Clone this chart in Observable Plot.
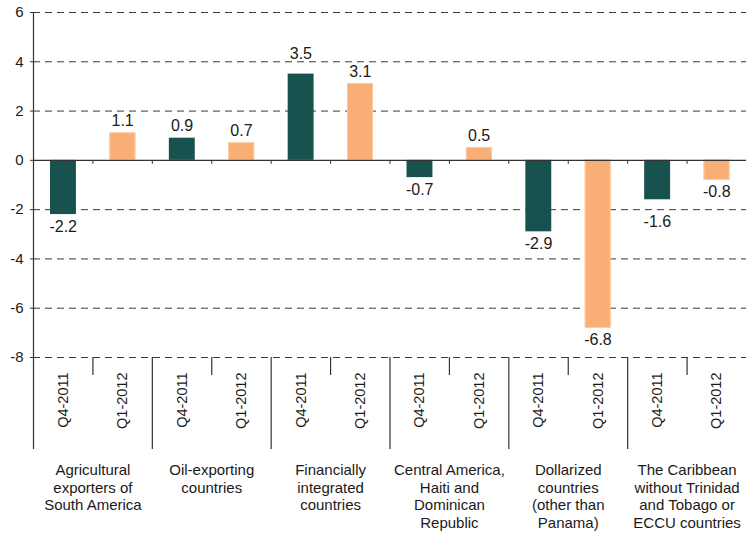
<!DOCTYPE html>
<html>
<head>
<meta charset="utf-8">
<script src="https://cdn.jsdelivr.net/npm/d3@7"></script>
<script src="https://cdn.jsdelivr.net/npm/@observablehq/plot@0.6"></script>
<style>
  html, body { margin: 0; padding: 0; background: #ffffff; }
  #chart svg { display: block; }
</style>
</head>
<body>
<div id="chart"></div>
<script>
const groups = [
  "Agricultural\nexporters of\nSouth America",
  "Oil-exporting\ncountries",
  "Financially\nintegrated\ncountries",
  "Central America,\nHaiti and\nDominican\nRepublic",
  "Dollarized\ncountries\n(other than\nPanama)",
  "The Caribbean\nwithout Trinidad\nand Tobago or\nECCU countries"
];
const quarters = ["Q4-2011", "Q1-2012"];
const valuesQ4_2011 = [-2.2, 0.9, 3.5, -0.7, -2.9, -1.6];
const valuesQ1_2012 = [1.1, 0.7, 3.1, 0.5, -6.8, -0.8];
const yTicks = [-8, -6, -4, -2, 0, 2, 4, 6];
const colors = ["#17524f", "#f9ae76"];

const W = 746, H = 533, mL = 33, mR = 0, mT = 12, mB = 176;

const rows = [];
groups.forEach((g, gi) => {
  [valuesQ4_2011[gi], valuesQ1_2012[gi]].forEach((v, qi) => {
    rows.push({slot: gi * 2 + qi, group: g, quarter: quarters[qi], value: v});
  });
});
const nSlots = rows.length;
const slotEdges = d3.range(0, nSlots);
const minorEdges = slotEdges.filter(s => s % 2 === 1);
const majorEdges = slotEdges.filter(s => s % 2 === 0);
const yMin = d3.min(yTicks), yMax = d3.max(yTicks);

// Label placement: if a value label would cross a gridline, place it beyond that gridline
const pxPerUnit = (H - mT - mB) / (yMax - yMin);
const labelSpan = 20 / pxPerUnit;
rows.forEach(d => {
  const v = d.value;
  let hit;
  if (v >= 0) hit = yTicks.find(t => t !== 0 && t > v && t < v + labelSpan);
  else hit = yTicks.find(t => t !== 0 && t < v && t > v - labelSpan);
  d.labelY = hit ?? v;
  d.moved = hit !== undefined;
});
const fmt = d => d.value.toFixed(1);

const chart = Plot.plot({
  width: W,
  height: H,
  marginLeft: mL,
  marginRight: mR,
  marginTop: mT,
  marginBottom: mB,
  style: {fontFamily: "'Liberation Sans', Arial, sans-serif", color: "#1a1a1a", background: "#ffffff"},
  x: {domain: [0, nSlots], axis: null},
  y: {domain: [yMin, yMax], axis: null},
  color: {domain: quarters, range: colors},
  marks: [
    Plot.ruleY(yTicks.filter(t => t !== 0), {stroke: "#3a3a3a", strokeDasharray: "7,5", strokeWidth: 1}),
    Plot.rect(rows, {
      x1: d => d.slot, x2: d => d.slot + 1, y1: 0, y2: "value",
      fill: "quarter", insetLeft: 17, insetRight: 16.5
    }),
    Plot.rect(rows.filter(d => d.quarter === quarters[1]), {
      x1: d => d.slot, x2: d => d.slot + 1, y1: 0, y2: "value",
      fill: "none", stroke: "#fcc9a0", strokeWidth: 1, insetLeft: 17.5, insetRight: 17
    }),
    Plot.ruleY([0], {stroke: "#333333", strokeWidth: 1.2}),
    Plot.ruleX(slotEdges.slice(1), {y1: 0, y2: 0, insetBottom: -4, stroke: "#333333"}),
    Plot.ruleX(minorEdges, {y1: yMin, y2: yMin, insetBottom: -18, stroke: "#333333", strokeWidth: 1.2}),
    Plot.ruleX(majorEdges, {y1: yMin, y2: yMin, insetBottom: -92, stroke: "#333333", strokeWidth: 1.2}),
    Plot.ruleX([0], {y1: yMax, y2: yMin, stroke: "#333333", strokeWidth: 1.2}),
    Plot.axisY(yTicks, {label: null, tickSize: 3, tickPadding: 7, fontSize: 15, tickFormat: d => String(d), stroke: "#333333"}),
    Plot.text(rows.filter(d => d.value >= 0 && !d.moved), {
      x: d => d.slot + 0.5, y: "labelY", text: fmt,
      lineAnchor: "bottom", dy: -7, fontSize: 16, fill: "#1a1a1a"
    }),
    Plot.text(rows.filter(d => d.value >= 0 && d.moved), {
      x: d => d.slot + 0.5, y: "labelY", text: fmt,
      lineAnchor: "bottom", dy: -3, fontSize: 16, fill: "#1a1a1a"
    }),
    Plot.text(rows.filter(d => d.value < 0), {
      x: d => d.slot + 0.5, y: "labelY", text: fmt,
      lineAnchor: "top", dy: 6, fontSize: 16, fill: "#1a1a1a"
    }),
    Plot.text(rows, {
      x: d => d.slot + 0.5, y: yMin, text: "quarter", rotate: -90,
      textAnchor: "end", dy: 15, fontSize: 14.5, fill: "#1a1a1a"
    }),
    Plot.text(groups, {
      x: (d, i) => 2 * i + 1, y: yMin, text: d => d,
      lineAnchor: "top", dy: 105, fontSize: 15, lineHeight: 1.17, fill: "#1a1a1a"
    })
  ]
});
document.getElementById("chart").appendChild(chart);
</script>
</body>
</html>
